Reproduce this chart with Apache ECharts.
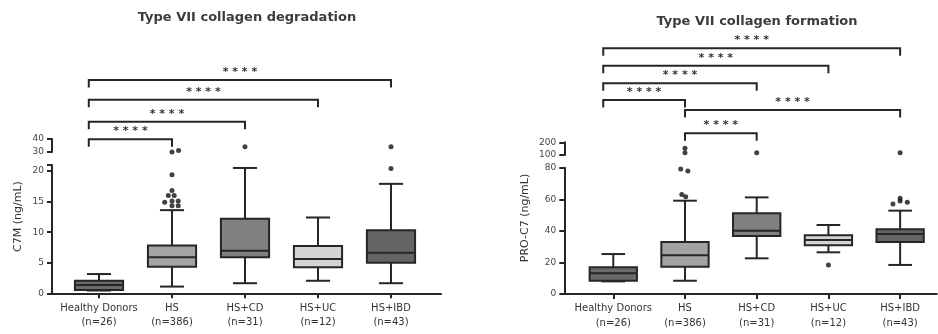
<!DOCTYPE html>
<html>
<head>
<meta charset="utf-8">
<title>Type VII collagen</title>
<script src="https://cdn.jsdelivr.net/npm/echarts@6.0.0/dist/echarts.min.js"></script>
<style>
  html, body { margin: 0; padding: 0; background: #fff; }
  #chart { width: 938px; height: 334px; }
</style>
</head>
<body>
<div id="chart"></div>
<script>
var groups = ['Healthy Donors\n(n=26)', 'HS\n(n=386)', 'HS+CD\n(n=31)', 'HS+UC\n(n=12)', 'HS+IBD\n(n=43)'];
var groupTicks = [0, 1, 2, 3, 4];

// C7M, [min, Q1, median, Q3, max]
var c7mBoxes = [
  [0.45, 0.55, 1.35, 2.05, 3.15],
  [1.1, 4.35, 5.9, 7.8, 13.6],
  [1.65, 5.9, 6.95, 12.2, 20.5],
  [2.05, 4.25, 5.6, 7.75, 12.4],
  [1.65, 5.0, 6.65, 10.3, 17.9]
];
// [group position, value]
var c7mOutliers = [
  [1, 19.4], [1, 16.8], [0.95, 16.0], [1.03, 16.0], [0.9, 14.9], [1, 15.1],
  [1.085, 15.1], [1, 14.3], [1.085, 14.3], [1, 30], [1.09, 31.2],
  [2, 34],
  [4, 20.4], [4, 34]
];
var c7mLowTicks = [0, 5, 10, 15, 20];
var c7mLowMax = 21;
var c7mHighTicks = [30, 40];
// [from, to, level]
var c7mBrackets = [[-0.14, 1, 0], [-0.14, 2, 0.89], [-0.14, 3, 2], [-0.14, 4, 3]];

// PRO-C7
var proBoxes = [
  [8.0, 8.4, 13.1, 16.9, 25.3],
  [8.4, 17.3, 24.6, 33.0, 59.1],
  [22.6, 36.7, 40.1, 51.1, 61.2],
  [26.4, 30.8, 34.2, 37.2, 43.7],
  [18.4, 32.9, 38.0, 41.0, 52.8]
];
var proOutliers = [
  [0.94, 79.2], [1.04, 77.9], [0.955, 63.1], [1.01, 61.6], [1, 153], [1, 118],
  [2, 118],
  [3, 18.4],
  [3.9, 57], [4, 60.6], [4, 58.9], [4.1, 58.1], [4, 118]
];
var proLowTicks = [0, 20, 40, 60, 80];
var proLowMax = 80;
var proHighTicks = [100, 200];
var proBrackets = [[1, 2, 0], [1, 4, 1.33], [-0.14, 1, 1.9], [-0.14, 2, 2.86], [-0.14, 3, 3.86], [-0.14, 4, 4.86]];

var boxColors = ['#6a6a6a', '#a3a3a3', '#808080', '#d4d4d4', '#646464'];
var ink = '#262626';
var axisLine = { show: true, onZero: false, lineStyle: { color: ink, width: 2 } };
var tickStyle = { color: ink, width: 2 };

var chart = echarts.init(document.getElementById('chart'));

function boxRenderer(params, api) {
  var x = api.value(0);
  var lo = api.coord([x, api.value(1)]);
  var q1 = api.coord([x, api.value(2)]);
  var md = api.coord([x, api.value(3)]);
  var q3 = api.coord([x, api.value(4)]);
  var hi = api.coord([x, api.value(5)]);
  var hw = api.size([0.66, 0])[0] / 2;
  var cw = api.size([0.33, 0])[0] / 2;
  var ls = { stroke: ink, lineWidth: 2 };
  return {
    type: 'group',
    children: [
      { type: 'line', shape: { x1: lo[0], y1: lo[1], x2: hi[0], y2: hi[1] }, style: ls },
      { type: 'line', shape: { x1: lo[0] - cw, y1: lo[1], x2: lo[0] + cw, y2: lo[1] }, style: ls },
      { type: 'line', shape: { x1: hi[0] - cw, y1: hi[1], x2: hi[0] + cw, y2: hi[1] }, style: ls },
      { type: 'rect', shape: { x: q1[0] - hw, y: q3[1], width: hw * 2, height: q1[1] - q3[1] },
        style: { fill: boxColors[params.dataIndex], stroke: ink, lineWidth: 2 } },
      { type: 'line', shape: { x1: md[0] - hw, y1: md[1], x2: md[0] + hw, y2: md[1] }, style: ls }
    ]
  };
}

function bracketRenderer(params, api) {
  var a = api.coord([api.value(0), api.value(2)]);
  var b = api.coord([api.value(1), api.value(2)]);
  var drop = 7.5;
  return {
    type: 'group',
    children: [
      { type: 'polyline',
        shape: { points: [[a[0], a[1] + drop], [a[0], a[1]], [b[0], b[1]], [b[0], b[1] + drop]] },
        style: { stroke: ink, lineWidth: 2, fill: null } },
      { type: 'text', x: (a[0] + b[0]) / 2, y: a[1] - 8,
        style: { text: '* * * *', align: 'center', verticalAlign: 'middle',
                 fill: '#333', font: 'bold 11px "DejaVu Sans"' } }
    ]
  };
}

function xHidden(min, max, grid) {
  return { type: 'value', gridIndex: grid, min: min, max: max, show: false, splitLine: { show: false } };
}
function xShown(min, max, grid) {
  return {
    type: 'value', gridIndex: grid, min: min, max: max,
    axisLine: axisLine,
    splitLine: { show: false },
    axisTick: { show: true, customValues: groupTicks, length: 5, lineStyle: tickStyle },
    axisLabel: {
      customValues: groupTicks, margin: 7.5, lineHeight: 14.5,
      fontFamily: 'DejaVu Sans', fontSize: 10, color: '#333',
      formatter: function (v) { return groups[Math.round(v)]; }
    }
  };
}
function yShown(min, max, grid, labels, ticks) {
  return {
    type: 'value', gridIndex: grid, min: min, max: max,
    axisLine: axisLine,
    splitLine: { show: false },
    axisTick: { show: true, customValues: ticks, length: 5, lineStyle: tickStyle },
    axisLabel: { customValues: labels, margin: 8, fontFamily: 'DejaVu Sans', fontSize: 9, color: '#444' }
  };
}
function yHidden(min, max, grid) {
  return { type: 'value', gridIndex: grid, min: min, max: max, show: false, splitLine: { show: false } };
}

var dotStyle = { color: '#111' };
function dots(list, xi, keep) {
  return {
    type: 'scatter', xAxisIndex: xi, yAxisIndex: xi, symbolSize: 5, clip: false,
    itemStyle: dotStyle, data: list.filter(keep)
  };
}

var lx = [-0.644, 4.685];
var rx = [-0.683, 4.51];

var option = {
  animation: false,
  backgroundColor: '#fff',
  grid: [
    { left: 52, top: 139, width: 389, height: 13 },
    { left: 52, top: 164.9, width: 389, height: 128.4 },
    { left: 52, top: 80, width: 389, height: 59.3 },
    { left: 564.3, top: 142.3, width: 372.4, height: 12.7 },
    { left: 564.3, top: 167.7, width: 372.4, height: 126.3 },
    { left: 564.3, top: 48.3, width: 372.4, height: 85 }
  ],
  xAxis: [
    xHidden(lx[0], lx[1], 0),
    xShown(lx[0], lx[1], 1),
    xHidden(lx[0], lx[1], 2),
    xHidden(rx[0], rx[1], 3),
    xShown(rx[0], rx[1], 4),
    xHidden(rx[0], rx[1], 5)
  ],
  yAxis: [
    yShown(30, 40, 0, c7mHighTicks, c7mHighTicks),
    yShown(0, c7mLowMax, 1, c7mLowTicks, c7mLowTicks.concat([c7mLowMax])),
    yHidden(0, 3, 2),
    yShown(100, 200, 3, proHighTicks, proHighTicks),
    yShown(0, proLowMax, 4, proLowTicks, proLowTicks),
    yHidden(0, 4.86, 5)
  ],
  series: [
    { type: 'custom', xAxisIndex: 1, yAxisIndex: 1, renderItem: boxRenderer,
      data: c7mBoxes.map(function (b, i) { return [i].concat(b); }) },
    dots(c7mOutliers, 1, function (p) { return p[1] <= c7mLowMax; }),
    dots(c7mOutliers, 0, function (p) { return p[1] > c7mLowMax; }),
    { type: 'custom', xAxisIndex: 2, yAxisIndex: 2, renderItem: bracketRenderer, data: c7mBrackets },

    { type: 'custom', xAxisIndex: 4, yAxisIndex: 4, renderItem: boxRenderer,
      data: proBoxes.map(function (b, i) { return [i].concat(b); }) },
    dots(proOutliers, 4, function (p) { return p[1] <= proLowMax; }),
    dots(proOutliers, 3, function (p) { return p[1] > proLowMax; }),
    { type: 'custom', xAxisIndex: 5, yAxisIndex: 5, renderItem: bracketRenderer, data: proBrackets }
  ],
  graphic: [
    { type: 'text', x: 247, y: 18, style: { text: 'Type VII collagen degradation', align: 'center',
      verticalAlign: 'middle', font: 'bold 13px "DejaVu Sans"', fill: '#3c3c3c' } },
    { type: 'text', x: 757, y: 21.5, style: { text: 'Type VII collagen formation', align: 'center',
      verticalAlign: 'middle', font: 'bold 13px "DejaVu Sans"', fill: '#3c3c3c' } },
    { type: 'text', x: 18, y: 216.5, rotation: Math.PI / 2, style: { text: 'C7M (ng/mL)', align: 'center',
      verticalAlign: 'middle', font: '11px "DejaVu Sans"', fill: '#333' } },
    { type: 'text', x: 525, y: 218, rotation: Math.PI / 2, style: { text: 'PRO-C7 (ng/mL)', align: 'center',
      verticalAlign: 'middle', font: '11px "DejaVu Sans"', fill: '#333' } }
  ]
};

chart.setOption(option);
</script>
</body>
</html>
